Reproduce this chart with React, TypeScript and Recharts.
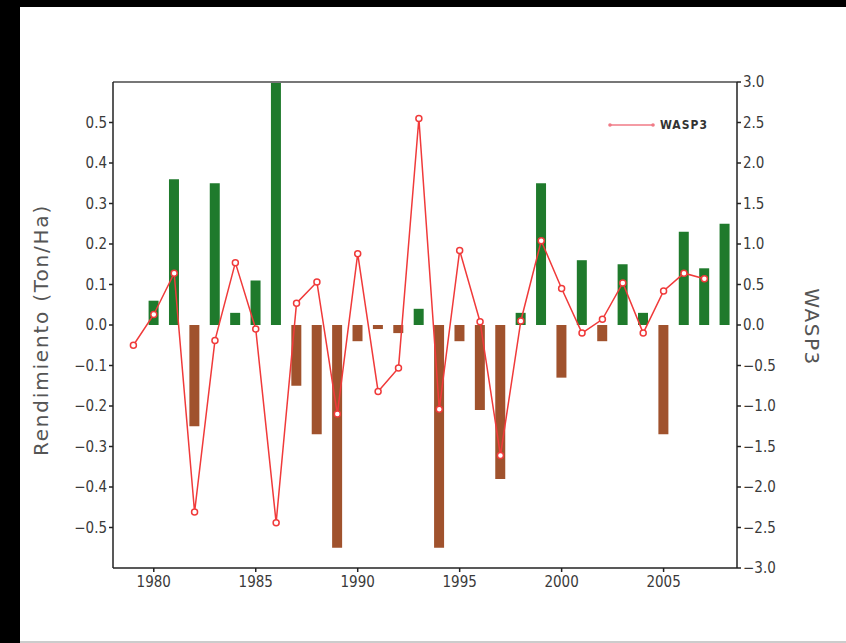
import {
  Bar,
  Cell,
  ComposedChart,
  Line,
  ReferenceLine,
  XAxis,
  YAxis,
} from "recharts";

// años del eje x
const years = [
  1979, 1980, 1981, 1982, 1983, 1984, 1985, 1986, 1987, 1988, 1989, 1990, 1991,
  1992, 1993, 1994, 1995, 1996, 1997, 1998, 1999, 2000, 2001, 2002, 2003, 2004,
  2005, 2006, 2007, 2008,
];

// anomalía de rendimiento (Ton/Ha), eje izquierdo
const rendimiento = [
  0, 0.06, 0.36, -0.25, 0.35, 0.03, 0.11, 0.6, -0.15, -0.27, -0.55, -0.04,
  -0.01, -0.02, 0.04, -0.55, -0.04, -0.21, -0.38, 0.03, 0.35, -0.13, 0.16,
  -0.04, 0.15, 0.03, -0.27, 0.23, 0.14, 0.25,
];

// índice WASP3, eje derecho (2008 sin dato)
const wasp3 = [
  -0.25, 0.13, 0.64, -2.31, -0.19, 0.77, -0.05, -2.44, 0.27, 0.53, -1.1, 0.88,
  -0.82, -0.53, 2.55, -1.04, 0.92, 0.04, -1.61, 0.05, 1.04, 0.45, -0.1, 0.07,
  0.52, -0.1, 0.42, 0.64, 0.57, null,
];

const xTicks = [1980, 1985, 1990, 1995, 2000, 2005];
const leftTicks = [-0.5, -0.4, -0.3, -0.2, -0.1, 0, 0.1, 0.2, 0.3, 0.4, 0.5];
const rightTicks = [-3, -2.5, -2, -1.5, -1, -0.5, 0, 0.5, 1, 1.5, 2, 2.5, 3];

const GREEN = "#1f7a2c";
const BROWN = "#a0522d";
const RED = "#f03a3a";
const LEG = "#f07a86";
const FONT = "'DejaVu Sans Condensed', 'Liberation Sans Narrow', sans-serif";
const LABEL_FONT = "'DejaVu Sans', sans-serif";

const data = years.map((y, i) => ({ year: y, rend: rendimiento[i], wasp: wasp3[i] }));

const fmt = (v: number) => (v < 0 ? "\u2212" + Math.abs(v).toFixed(1) : v.toFixed(1));

const tickStyle = { fontSize: 15, fill: "#3a3a3a", fontFamily: FONT };

// leyenda dibujada como etiqueta del eje x (evita que el Legend reserve espacio)
function LegendBox() {
  return (
    <g>
      <line x1={610} y1={125} x2={653} y2={125} stroke={LEG} strokeWidth={1.3} />
      <circle cx={610} cy={125} r={1.8} fill={LEG} />
      <circle cx={653} cy={125} r={1.8} fill={LEG} />
      <text x={660} y={129} fontSize={12} fontWeight="bold" fill="#333" fontFamily={FONT} letterSpacing={1}>
        WASP3
      </text>
    </g>
  );
}

export default function App() {
  return (
    <div style={{ position: "absolute", left: 0, top: 0, width: 846, height: 643, background: "#000" }}>
      <div
        style={{
          position: "absolute",
          left: 20,
          top: 7,
          width: 826,
          height: 634,
          background: "#fff",
          borderBottom: "2px solid #ccc",
        }}
      />
      <div style={{ position: "absolute", left: 0, top: 0 }}>
        <ComposedChart
          width={846}
          height={643}
          data={data}
          margin={{ top: 82, right: 49, bottom: 45, left: 53 }}
        >
          <XAxis
            dataKey="year"
            type="number"
            domain={[1978, 2008.6]}
            ticks={xTicks}
            allowDataOverflow
            height={30}
            stroke="#222"
            strokeWidth={1.5}
            tickSize={4}
            tick={tickStyle}
            tickMargin={4}
            label={{ content: () => <LegendBox /> }}
          />
          <YAxis
            yAxisId="left"
            domain={[-0.6, 0.6]}
            ticks={leftTicks}
            allowDataOverflow
            width={60}
            stroke="#222"
            strokeWidth={1.5}
            tickSize={4}
            tickFormatter={fmt}
            tick={tickStyle}
            label={{
              content: () => (
                <text
                  x={48}
                  y={330}
                  transform="rotate(-90 48 330)"
                  textAnchor="middle"
                  fontSize={20}
                  letterSpacing={1.8}
                  fill="#555"
                  fontFamily={LABEL_FONT}
                >
                  Rendimiento (Ton/Ha)
                </text>
              ),
            }}
          />
          <YAxis
            yAxisId="right"
            orientation="right"
            domain={[-3, 3]}
            ticks={rightTicks}
            allowDataOverflow
            width={60}
            stroke="#222"
            strokeWidth={1.5}
            tickSize={4}
            tickFormatter={fmt}
            tick={tickStyle}
            label={{
              content: () => (
                <text
                  x={805}
                  y={327}
                  transform="rotate(90 805 327)"
                  textAnchor="middle"
                  fontSize={20}
                  letterSpacing={1.5}
                  fill="#555"
                  fontFamily={LABEL_FONT}
                >
                  WASP3
                </text>
              ),
            }}
          />
          <ReferenceLine yAxisId="left" y={0.6} stroke="#777" strokeWidth={2} ifOverflow="extendDomain" />
          <Bar yAxisId="left" dataKey="rend" barSize={10} isAnimationActive={false}>
            {data.map((d, i) => (
              <Cell key={i} fill={d.rend >= 0 ? GREEN : BROWN} />
            ))}
          </Bar>
          <Line
            yAxisId="right"
            dataKey="wasp"
            type="linear"
            stroke={RED}
            strokeWidth={1.5}
            dot={{ r: 3, fill: "#fff", stroke: RED, strokeWidth: 1.5 }}
            isAnimationActive={false}
          />
        </ComposedChart>
      </div>
    </div>
  );
}
